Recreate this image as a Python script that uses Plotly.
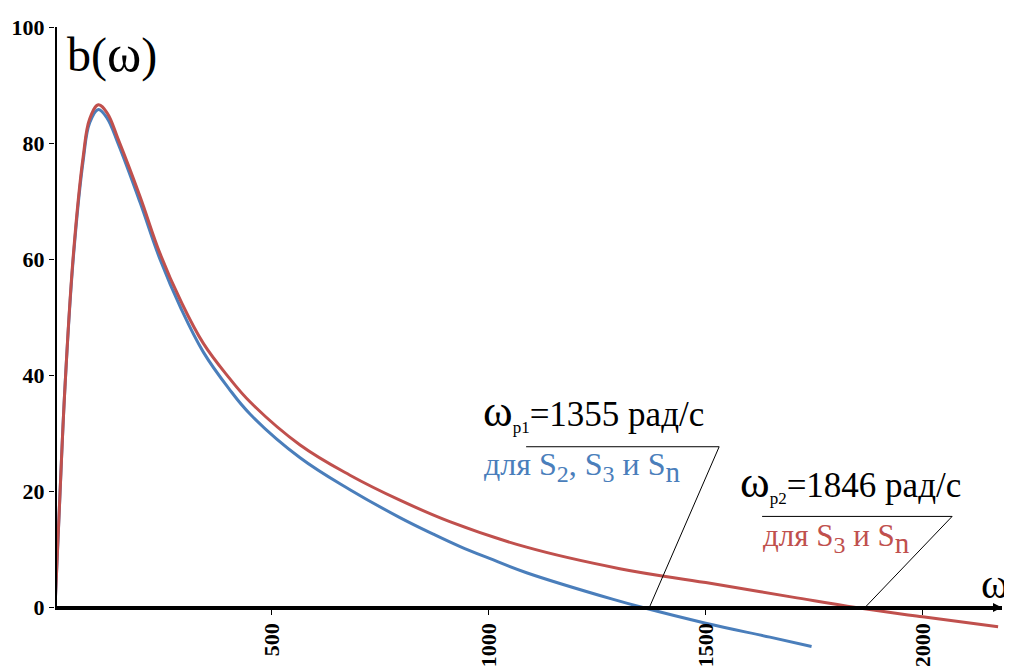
import plotly.graph_objects as go

# ---- data ----
omega_red = [0, 10, 23, 42, 65, 80, 100, 120, 146, 196, 242, 290, 342, 400, 450, 565,
             680, 795, 910, 1087, 1302, 1500, 1700, 1846, 2000, 2174]
b_red = [0, 17, 38, 60.5, 77.7, 84.2, 86.6, 85.2, 80.6, 70.8, 61.0, 52.8, 45.5, 39.7, 35.4, 28.0,
         22.8, 18.5, 14.8, 10.4, 6.7, 4.3, 1.8, 0, -1.6, -3.3]

omega_blue = [0, 10, 23, 42, 65, 80, 100, 120, 146, 196, 242, 290, 342, 400, 450, 565,
              680, 795, 872, 934, 1000, 1087, 1287, 1355, 1500, 1648, 1744]
b_blue = [0, 17, 38, 60, 77, 83.5, 85.8, 84.3, 79.8, 69.8, 60.0, 51.6, 44.0, 37.8, 33.3, 25.8,
          20.3, 15.5, 12.65, 10.5, 8.5, 6.0, 1.4, 0, -2.7, -5.1, -6.7]

y_ticks = [0, 20, 40, 60, 80, 100]
x_ticks = [500, 1000, 1500, 2000]

OMEGA_P1 = 1355
OMEGA_P2 = 1846

BLUE = "#4a7ebb"
RED = "#c0504d"
SERIF = "Liberation Serif"

X_MAX = 2183
Y_MIN, Y_MAX = -8, 100

fig = go.Figure()
fig.add_trace(go.Scatter(x=omega_blue, y=b_blue, mode="lines",
                         line=dict(color=BLUE, width=3, shape="spline", smoothing=1.1),
                         showlegend=False, hoverinfo="skip"))
fig.add_trace(go.Scatter(x=omega_red, y=b_red, mode="lines",
                         line=dict(color=RED, width=3, shape="spline", smoothing=1.1),
                         showlegend=False, hoverinfo="skip"))

zero_pos = (0 - Y_MIN) / (Y_MAX - Y_MIN)

fig.update_layout(
    width=1004, height=658,
    margin=dict(l=47, r=10, t=19, b=12),
    paper_bgcolor="white", plot_bgcolor="white",
    xaxis=dict(range=[0, X_MAX], anchor="free", position=zero_pos,
               showline=True, linecolor="black", linewidth=4,
               tickvals=x_ticks, ticktext=[str(v) for v in x_ticks],
               ticks="outside", ticklen=5, tickcolor="black", tickangle=-90,
               tickfont=dict(family=SERIF, size=22, color="black", weight="bold"),
               showgrid=False, zeroline=False, automargin=False),
    yaxis=dict(range=[Y_MIN, Y_MAX], showline=False,
               tickvals=y_ticks, ticktext=[str(v) for v in y_ticks],
               ticks="outside", ticklen=5, tickcolor="black",
               tickfont=dict(family=SERIF, size=22, color="black", weight="bold"),
               showgrid=False, zeroline=False, automargin=False),
)

# y axis line (from 0 up to 100 only)
fig.add_shape(type="line", xref="x", yref="y", x0=0, x1=0, y0=0, y1=Y_MAX,
              line=dict(color="black", width=4))

# leader lines for the annotations
fig.add_shape(type="line", xref="x", yref="y", x0=1086, x1=1531, y0=27.7, y1=27.7,
              line=dict(color="black", width=1))
fig.add_shape(type="line", xref="x", yref="y", x0=1531, x1=1370, y0=27.7, y1=0,
              line=dict(color="black", width=1))
fig.add_shape(type="line", xref="x", yref="y", x0=1630, x1=2068, y0=15.7, y1=15.7,
              line=dict(color="black", width=1))
fig.add_shape(type="line", xref="x", yref="y", x0=2068, x1=1867, y0=15.7, y1=0,
              line=dict(color="black", width=1))

# arrow head on x axis
fig.add_annotation(x=X_MAX, y=0, xref="x", yref="y", text="", showarrow=True,
                   ax=-10, ay=0, arrowhead=2, arrowsize=0.6, arrowwidth=3, arrowcolor="black")

OM = "<span style='font-size:45px'>ω</span>"

fig.add_annotation(x=23, y=95.5, xref="x", yref="y",
                   text="b(<span style='font-size:52px'>ω</span>)", showarrow=False,
                   xanchor="left", yanchor="middle",
                   font=dict(family=SERIF, size=48, color="black"))
fig.add_annotation(x=2166, y=4.1, xref="x", yref="y", text="ω", showarrow=False,
                   xanchor="center", yanchor="middle",
                   font=dict(family=SERIF, size=42, color="black"))

SUB_P = "<sub><span style='font-size:17px'>{}</span></sub>"
fig.add_annotation(x=982, y=33.8, xref="x", yref="y",
                   text=OM + SUB_P.format("p1") + f"={OMEGA_P1} рад/с", showarrow=False,
                   xanchor="left", yanchor="middle",
                   font=dict(family=SERIF, size=35, color="black"))
fig.add_annotation(x=1575, y=21.6, xref="x", yref="y",
                   text=OM + SUB_P.format("p2") + f"={OMEGA_P2} рад/с", showarrow=False,
                   xanchor="left", yanchor="middle",
                   font=dict(family=SERIF, size=35, color="black"))

SUB_D = "<sub><span style='font-size:24px'>{}</span></sub>"
SUB_N = "<sub><span style='font-size:29px'>n</span></sub>"
fig.add_annotation(x=984, y=24.2, xref="x", yref="y",
                   text="для S" + SUB_D.format("2") + ", S" + SUB_D.format("3") + " и S" + SUB_N,
                   showarrow=False, xanchor="left", yanchor="middle",
                   font=dict(family=SERIF, size=32, color=BLUE))
fig.add_annotation(x=1628, y=11.9, xref="x", yref="y",
                   text="для S" + SUB_D.format("3") + " и S" + SUB_N,
                   showarrow=False, xanchor="left", yanchor="middle",
                   font=dict(family=SERIF, size=31, color=RED))

fig.write_html("out.html")
